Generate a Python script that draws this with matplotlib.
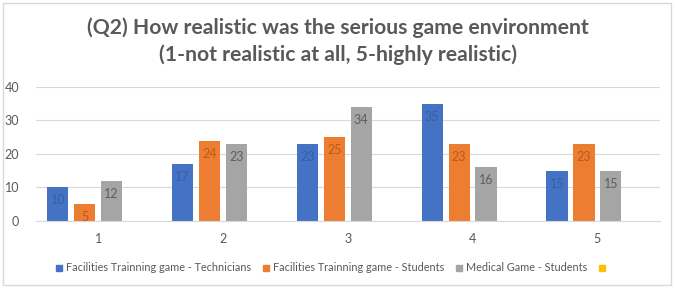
import numpy as np
import matplotlib.pyplot as plt
from matplotlib.patches import Rectangle
from matplotlib.lines import Line2D

plt.rcParams['font.family'] = ['Lato', 'DejaVu Sans']

# Ratings 1..5 and counts per group
categories = ['1', '2', '3', '4', '5']
technicians = [10, 17, 23, 35, 15]
fac_students = [5, 24, 25, 23, 23]
med_students = [12, 23, 34, 16, 15]
empty_series = [0, 0, 0, 0, 0]

series_names = ['Facilities Trainning game - Technicians',
                'Facilities Trainning game - Students',
                'Medical Game - Students',
                '']
series_vals = [technicians, fac_students, med_students, empty_series]
colors = ['#4472C4', '#ED7D31', '#A5A5A5', '#FFC000']
label_colors = ['#3B5E9E', '#B85A1E', '#5E5E5E', '#000000']

fig = plt.figure(figsize=(6.76, 2.9), dpi=100)
fig.patches.append(Rectangle((0.004, 0.017), 0.988, 0.972, transform=fig.transFigure,
                             fill=False, edgecolor='#D9D9D9', linewidth=1))
ax = fig.add_axes([0.053, 0.238, 0.923, 0.462])

x = np.arange(len(categories))
step = 0.216
width = 0.17
for k, (vals, c, lc) in enumerate(zip(series_vals, colors, label_colors)):
    offs = (k - 1.5) * step
    bars = ax.bar(x + offs, vals, width=width, color=c)
    if k < 3:
        for b, v in zip(bars, vals):
            ax.annotate(str(v), (b.get_x() + b.get_width() / 2, v),
                        xytext=(0, -5), textcoords='offset points',
                        ha='center', va='top', fontsize=9, color=lc)

ax.set_xlim(-0.5, 4.5)
ax.set_ylim(0, 40)
ax.set_yticks([0, 10, 20, 30, 40])
ax.set_xticks(x)
ax.set_xticklabels(categories)
ax.grid(axis='y', color='#D9D9D9', linewidth=0.8)
ax.set_axisbelow(True)
for s in ['top', 'right', 'left']:
    ax.spines[s].set_visible(False)
ax.spines['bottom'].set_color('#D9D9D9')
ax.tick_params(length=0, labelsize=9, labelcolor='#595959')
ax.tick_params(axis='x', pad=9)
ax.tick_params(axis='y', pad=12)

fig.text(0.5, 0.905, '(Q2) How realistic was the serious game environment',
         ha='center', va='center', fontsize=15.2, fontweight='bold', color='#595959')
fig.text(0.5, 0.81, '(1-not realistic at all, 5-highly realistic)',
         ha='center', va='center', fontsize=15.2, fontweight='bold', color='#595959')

handles = [Line2D([], [], marker='s', linestyle='', markersize=5, color=c) for c in colors]
fig.legend(handles, series_names, loc='center', bbox_to_anchor=(0.49, 0.076), ncol=4,
           frameon=False, fontsize=7.8, labelcolor='#595959', handletextpad=0.1,
           columnspacing=0.9, handlelength=1.0)

fig.savefig('out.png', dpi=100)
